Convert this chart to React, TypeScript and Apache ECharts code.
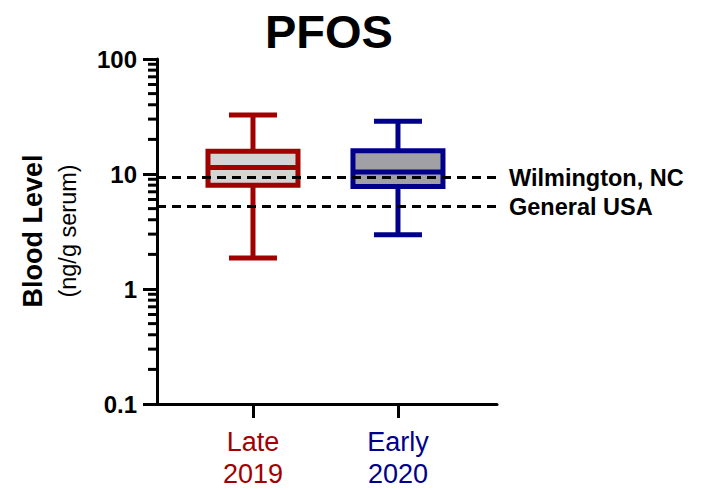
import React, { useEffect, useRef } from "react";
import * as echarts from "echarts";

// Data
const categoryNames = ["Late\n2019", "Early\n2020"];
const categoryPositions = [0, 1];
// [min, Q1, median, Q3, max] (ng/g serum)
const late2019 = [1.86, 8.0, 11.4, 15.8, 32.6];
const early2020 = [2.97, 7.8, 10.4, 15.9, 28.7];
const referenceLevels = [9.3, 5.2];
const referenceNames = ["Wilmington, NC", "General USA"];
const yTickValues = [0.1, 1, 10, 100];
const minorTickValues = [
  0.2, 0.3, 0.4, 0.5, 0.6, 0.7, 0.8, 0.9,
  2, 3, 4, 5, 6, 7, 8, 9,
  20, 30, 40, 50, 60, 70, 80, 90,
];

const strokeColors = ["#A20000", "#00008A"];
const fillColors = ["#D4D4D4", "#A1A1A5"];
const FONT = '"Liberation Sans", Arial, Helvetica, sans-serif';

export default function App() {
  const ref = useRef<HTMLDivElement>(null);

  useEffect(() => {
    if (!ref.current) return;
    const chart = echarts.init(ref.current, null, { renderer: "svg" });

    const boxData = [late2019, early2020].map((vals, i) => [categoryPositions[i], ...vals]);

    const option: any = {
      animation: false,
      backgroundColor: "#ffffff",
      title: {
        text: "PFOS",
        left: 260,
        top: 3,
        textStyle: { fontFamily: FONT, fontSize: 47, fontWeight: "bold", color: "#000" },
      },
      grid: { left: 157, right: 211, top: 59, bottom: 86, containLabel: false },
      xAxis: {
        type: "value",
        min: -0.662,
        max: 1.683,
        splitLine: { show: false },
        axisLine: { show: true, onZero: false, lineStyle: { color: "#000", width: 3 } },
        axisTick: { show: true, customValues: categoryPositions, length: 14, lineStyle: { color: "#000", width: 3 } },
        axisLabel: {
          show: true,
          customValues: categoryPositions,
          margin: 22,
          formatter: (v: number) => {
            const i = Math.round(v);
            const lines = (categoryNames[i] || "").split("\n");
            return lines.map((l) => `{c${i}|${l}}`).join("\n");
          },
          rich: {
            c0: { color: strokeColors[0], fontSize: 27, fontFamily: FONT, lineHeight: 32 },
            c1: { color: strokeColors[1], fontSize: 27, fontFamily: FONT, lineHeight: 32 },
          },
        },
      },
      yAxis: {
        type: "log",
        logBase: 10,
        min: yTickValues[0],
        max: yTickValues[yTickValues.length - 1],
        splitLine: { show: false },
        axisLine: { show: true, onZero: false, lineStyle: { color: "#000", width: 3 } },
        axisTick: { show: true, length: 14, lineStyle: { color: "#000", width: 3 } },
        axisLabel: {
          margin: 20,
          fontFamily: FONT,
          fontSize: 24,
          fontWeight: "bold",
          color: "#000",
          formatter: (v: number) => String(v),
        },
      },
      graphic: [
        {
          type: "text",
          x: 33,
          y: 231,
          rotation: Math.PI / 2,
          style: {
            text: "Blood Level",
            font: `bold 27px ${FONT}`,
            fill: "#000",
            textAlign: "center",
            textVerticalAlign: "middle",
          },
        },
        {
          type: "text",
          x: 68,
          y: 231,
          rotation: Math.PI / 2,
          style: {
            text: "(ng/g serum)",
            font: `23.5px ${FONT}`,
            fill: "#000",
            textAlign: "center",
            textVerticalAlign: "middle",
          },
        },
      ],
      series: [
        {
          type: "custom",
          name: "minorTicks",
          z: 1,
          clip: false,
          silent: true,
          data: minorTickValues.map((v) => [0, v]),
          encode: { x: 0, y: 1 },
          renderItem: (params: any, api: any) => {
            const p = api.coord([0, api.value(1)]);
            const x0 = params.coordSys.x;
            return {
              type: "line",
              shape: { x1: x0 - 9, y1: p[1], x2: x0, y2: p[1] },
              style: { stroke: "#000", lineWidth: 3 },
            };
          },
          markLine: {
            silent: true,
            symbol: "none",
            lineStyle: { type: [9, 6], width: 3, color: "#000" },
            label: {
              show: true,
              position: "end",
              distance: 12,
              formatter: (p: any) => p.name,
              fontFamily: FONT,
              fontSize: 23.5,
              fontWeight: "bold",
              color: "#000",
            },
            data: referenceLevels.map((v, i) => ({ yAxis: v, name: referenceNames[i] })),
          },
        },
        {
          type: "custom",
          name: "boxes",
          z: 3,
          clip: false,
          data: boxData,
          encode: { x: 0, y: [1, 2, 3, 4, 5] },
          renderItem: (params: any, api: any) => {
            const i = params.dataIndex;
            const x = api.value(0);
            const pMin = api.coord([x, api.value(1)]);
            const pQ1 = api.coord([x, api.value(2)]);
            const pMed = api.coord([x, api.value(3)]);
            const pQ3 = api.coord([x, api.value(4)]);
            const pMax = api.coord([x, api.value(5)]);
            const cx = pMin[0];
            const halfBox = 45;
            const halfCap = 24;
            const stroke = strokeColors[i];
            const lw = 5;
            return {
              type: "group",
              children: [
                { type: "line", shape: { x1: cx, y1: pQ3[1], x2: cx, y2: pMax[1] }, style: { stroke, lineWidth: lw } },
                { type: "line", shape: { x1: cx - halfCap, y1: pMax[1], x2: cx + halfCap, y2: pMax[1] }, style: { stroke, lineWidth: lw } },
                { type: "line", shape: { x1: cx, y1: pQ1[1], x2: cx, y2: pMin[1] }, style: { stroke, lineWidth: lw } },
                { type: "line", shape: { x1: cx - halfCap, y1: pMin[1], x2: cx + halfCap, y2: pMin[1] }, style: { stroke, lineWidth: lw } },
                {
                  type: "rect",
                  shape: { x: cx - halfBox, y: pQ3[1], width: halfBox * 2, height: pQ1[1] - pQ3[1] },
                  style: { fill: fillColors[i], stroke, lineWidth: lw },
                },
                { type: "line", shape: { x1: cx - halfBox, y1: pMed[1], x2: cx + halfBox, y2: pMed[1] }, style: { stroke, lineWidth: lw } },
              ],
            };
          },
        },
      ],
    };

    chart.setOption(option);
    return () => chart.dispose();
  }, []);

  return <div ref={ref} style={{ width: 708, height: 490, position: "absolute", left: 0, top: 0 }} />;
}
